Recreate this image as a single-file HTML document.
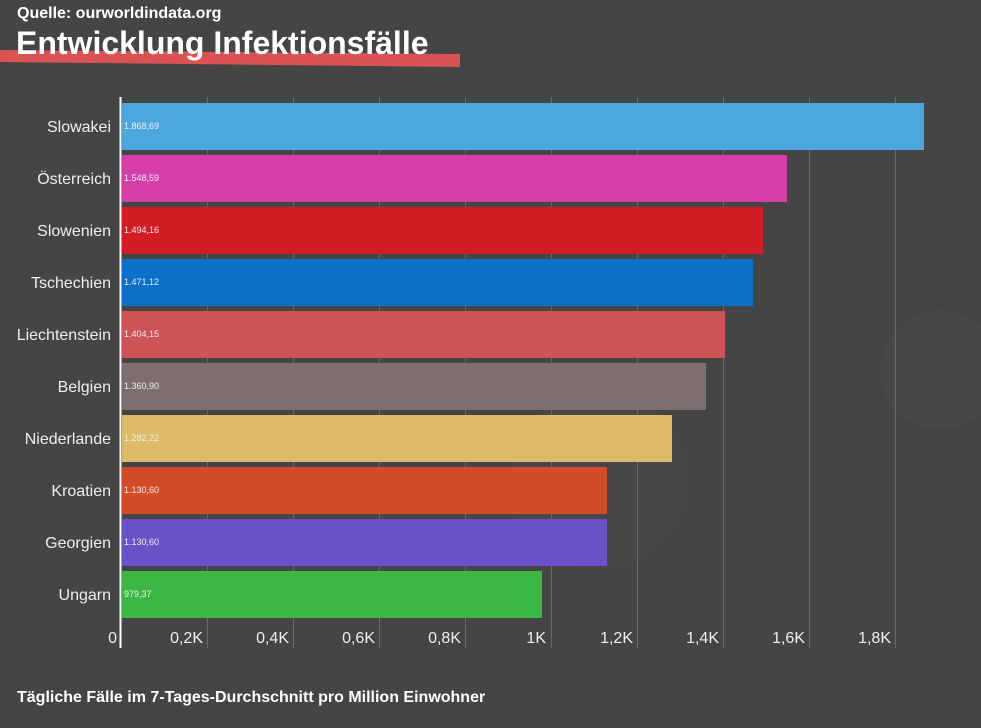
<!DOCTYPE html>
<html><head><meta charset="utf-8"><style>
body{margin:0;width:981px;height:728px;background:#474646;overflow:hidden;font-family:"Liberation Sans",sans-serif;}
</style></head><body>
<svg width="981" height="728" xmlns="http://www.w3.org/2000/svg" style="position:absolute;left:0;top:0">
<rect width="981" height="728" fill="#464545"/>
<circle cx="940" cy="370" r="60" fill="#4d4949" opacity="0.5"/>
<circle cx="600" cy="480" r="90" fill="#4b4848" opacity="0.4"/>
<polygon points="0,50 460,54 460,67 0,62" fill="#da5254"/>
<text x="17" y="18" font-size="16" fill="#fff" font-weight="bold">Quelle: ourworldindata.org</text>
<text x="16" y="54" font-size="32" fill="#fff" font-weight="bold">Entwicklung Infektionsfälle</text>
<g stroke="#6a6868" stroke-width="1">
<line x1="207.5" y1="97" x2="207.5" y2="648"/><line x1="293.5" y1="97" x2="293.5" y2="648"/>
<line x1="379.5" y1="97" x2="379.5" y2="648"/><line x1="465.5" y1="97" x2="465.5" y2="648"/>
<line x1="551.5" y1="97" x2="551.5" y2="648"/><line x1="637.5" y1="97" x2="637.5" y2="648"/>
<line x1="723.5" y1="97" x2="723.5" y2="648"/><line x1="809.5" y1="97" x2="809.5" y2="648"/>
<line x1="895.5" y1="97" x2="895.5" y2="648"/>
</g>
<g>
<rect x="122" y="103" width="802" height="47" fill="#4ba7dc"/>
<rect x="122" y="155" width="665" height="47" fill="#d63ea9"/>
<rect x="122" y="207" width="641" height="47" fill="#d41c25"/>
<rect x="122" y="259" width="631" height="47" fill="#0b70c8"/>
<rect x="122" y="311" width="603" height="47" fill="#cd5357"/>
<rect x="122" y="363" width="584" height="47" fill="#7d6f6f"/>
<rect x="122" y="415" width="550" height="47" fill="#ddbb67"/>
<rect x="122" y="467" width="485" height="47" fill="#d44c27"/>
<rect x="122" y="519" width="485" height="47" fill="#6a51c9"/>
<rect x="122" y="571" width="420" height="47" fill="#3ab843"/>
</g>
<line x1="120.5" y1="97" x2="120.5" y2="648" stroke="#fff" stroke-width="2"/>
<g font-size="9" fill="#eee">
<text x="124" y="129">1.868,69</text><text x="124" y="181">1.548,59</text>
<text x="124" y="233">1.494,16</text><text x="124" y="285">1.471,12</text>
<text x="124" y="337">1.404,15</text><text x="124" y="389">1.360,90</text>
<text x="124" y="441">1.282,22</text><text x="124" y="493">1.130,60</text>
<text x="124" y="545">1.130,60</text><text x="124" y="597">979,37</text>
</g>
<g font-size="16" fill="#eee" text-anchor="end">
<text x="111" y="132">Slowakei</text><text x="111" y="184">Österreich</text>
<text x="111" y="236">Slowenien</text><text x="111" y="288">Tschechien</text>
<text x="111" y="340">Liechtenstein</text><text x="111" y="392">Belgien</text>
<text x="111" y="444">Niederlande</text><text x="111" y="496">Kroatien</text>
<text x="111" y="548">Georgien</text><text x="111" y="600">Ungarn</text>
</g>
<g font-size="16" fill="#eee" text-anchor="end">
<text x="117" y="643">0</text><text x="203" y="643">0,2K</text><text x="289" y="643">0,4K</text>
<text x="375" y="643">0,6K</text><text x="461" y="643">0,8K</text><text x="546" y="643">1K</text>
<text x="633" y="643">1,2K</text><text x="719" y="643">1,4K</text><text x="805" y="643">1,6K</text>
<text x="891" y="643">1,8K</text>
</g>
<text x="17" y="702" font-size="16" fill="#fff" font-weight="bold">Tägliche Fälle im 7-Tages-Durchschnitt pro Million Einwohner</text>
</svg>
</body></html>
